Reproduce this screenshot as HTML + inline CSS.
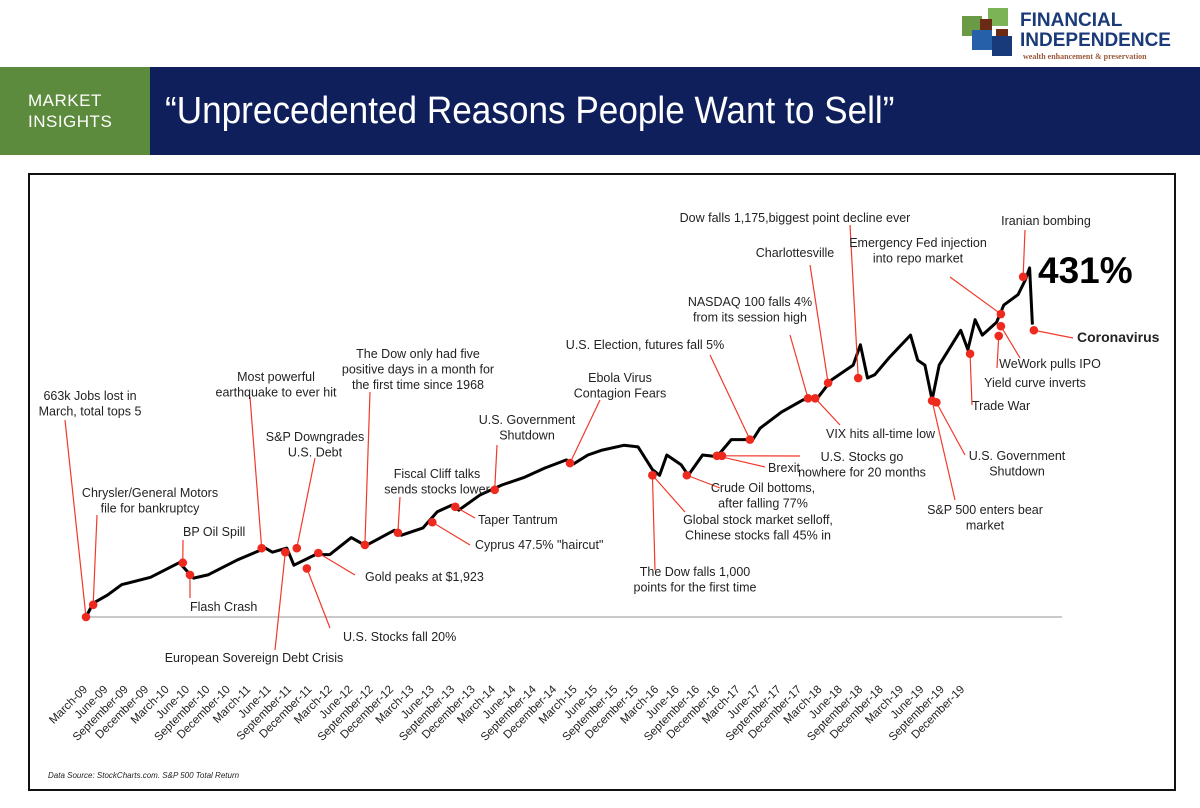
<!DOCTYPE html>
<html><head><meta charset="utf-8"><style>
body{margin:0;width:1200px;height:808px;background:#fff;font-family:"Liberation Sans",sans-serif;overflow:hidden;position:relative}
#hdr-green{position:absolute;left:0;top:67px;width:150px;height:88px;background:#5c8b3d}
#hdr-blue{position:absolute;left:150px;top:67px;width:1050px;height:88px;background:#0e1f5b}
#mi{position:absolute;left:28px;top:90px;color:#fff;font-size:17px;line-height:21px;letter-spacing:0.5px}
#title{position:absolute;left:165px;top:90px;color:#fff;font-size:38px;white-space:nowrap;transform:scaleX(0.925);transform-origin:0 0}
#logo{position:absolute;left:962px;top:6px;width:230px;height:56px}
</style></head><body>
<div id="logo">
<svg width="230" height="56">
<rect x="0" y="10" width="20" height="20" fill="#6a9a46"/>
<rect x="26" y="2" width="20" height="18" fill="#7cb356"/>
<rect x="18" y="13" width="12" height="12" fill="#6b2a14"/>
<rect x="10" y="24" width="20" height="20" fill="#2660a8"/>
<rect x="34" y="23" width="12" height="10" fill="#6b2a14"/>
<rect x="30" y="30" width="20" height="20" fill="#183a7a"/>
<text x="58" y="20" font-family="Liberation Sans" font-weight="bold" font-size="19" fill="#1b3a7a">FINANCIAL</text>
<text x="58" y="40" font-family="Liberation Sans" font-weight="bold" font-size="19" fill="#1b3a7a">INDEPENDENCE</text>
<text x="61" y="53" font-family="Liberation Serif" font-weight="bold" font-size="8" fill="#9a5a3a">wealth enhancement &amp; preservation</text>
</svg></div>
<div id="hdr-green"></div>
<div id="hdr-blue"></div>
<div id="mi">MARKET<br>INSIGHTS</div>
<div id="title">“Unprecedented Reasons People Want to Sell”</div>
<svg id="chart" width="1200" height="808" style="position:absolute;left:0;top:0"></svg>
<script>
const months=[0,1,3,5,9,13,15,17,21,25,26,28,29,32,34,37,39,43,44,47,49,51,52,55,58,61,64,67,68,70,72,75,77,79,80,81,83,84,86,88,90,92,93,94,97,100,102,104,107,108,109,110,112,115,116,117,118,119,122,123,124,125,127,128,130,131,131.6,132];
const values=[0,17,27,40,49,67,48,52,70,85,80,85,64,77,77,98,88,107,101,110,130,138,132,151,163,172,184,194,189,200,206,212,210,182,175,200,188,175,200,198,219,219,219,233,253,268,270,293,311,336,295,299,320,348,317,311,268,311,354,330,367,348,364,385,398,416,431,361];
const tickMonths=["March","June","September","December"];
const tickYears=["09","10","11","12","13","14","15","16","17","18","19"];
const evMonth=[0,1,13.5,14.5,24.5,29.4,27.8,30.8,32.4,38.9,43.5,48.3,51.5,57,67.5,79,79,83.8,88,88.7,92.6,100.7,101.7,103.5,107.7,118,118.6,123.3,127.3,127.6,127.6,130.7,132.2];
const evValue=[0,15,67,52,85,85,80,60,79,89,104,117,136,157,190,175,175,175,199,199,219,270,270,289,295,267,265,325,347,359,374,420,354];
const layout=[
[65,420,90,400,"middle",["663k Jobs lost in","March, total tops 5"]],
[97,515,150,497,"middle",["Chrysler/General Motors","file for bankruptcy"]],
[183,540,183,536,"start",["BP Oil Spill"]],
[190,598,190,611,"start",["Flash Crash"]],
[250,397,276,381,"middle",["Most powerful","earthquake to ever hit"]],
[315,458,315,441,"middle",["S&P Downgrades","U.S. Debt"]],
[275,650,254,662,"middle",["European Sovereign Debt Crisis"]],
[330,628,343,641,"start",["U.S. Stocks fall 20%"]],
[355,575,365,581,"start",["Gold peaks at $1,923"]],
[370,392,418,358,"middle",["The Dow only had five","positive days in a month for","the first time since 1968"]],
[400,497,437,478,"middle",["Fiscal Cliff talks","sends stocks lower"]],
[470,545,475,549,"start",["Cyprus 47.5% \"haircut\""]],
[475,518,478,524,"start",["Taper Tantrum"]],
[497,445,527,424,"middle",["U.S. Government","Shutdown"]],
[600,400,620,382,"middle",["Ebola Virus","Contagion Fears"]],
[655,570,695,576,"middle",["The Dow falls 1,000","points for the first time"]],
[685,512,758,524,"middle",["Global stock market selloff,","Chinese stocks fall 45% in"]],
[720,488,763,492,"middle",["Crude Oil bottoms,","after falling 77%"]],
[765,467,768,472,"start",["Brexit"]],
[800,456,862,461,"middle",["U.S. Stocks go","nowhere for 20 months"]],
[710,355,645,349,"middle",["U.S. Election, futures fall 5%"]],
[790,335,750,306,"middle",["NASDAQ 100 falls 4%","from its  session high"]],
[840,425,826,438,"start",["VIX hits all-time low"]],
[810,265,795,257,"middle",["Charlottesville"]],
[850,225,795,222,"middle",["Dow falls 1,175,biggest point decline ever"]],
[955,500,985,514,"middle",["S&P 500 enters bear","market"]],
[965,455,1017,460,"middle",["U.S. Government","Shutdown"]],
[972,405,972,410,"start",["Trade War"]],
[997,368,1035,387,"middle",["Yield curve inverts"]],
[1020,358,1050,368,"middle",["WeWork pulls IPO"]],
[950,277,918,247,"middle",["Emergency Fed injection","into repo market"]],
[1025,230,1046,225,"middle",["Iranian bombing"]],
[1073,338,1077,342,"start",["Coronavirus"]]];
const NS="http://www.w3.org/2000/svg";
const svg=document.getElementById('chart');
function x(m){return 86+m*7.17;}
function y(v){return 617-v*0.81;}
function mk(t,a,p){const e=document.createElementNS(NS,t);for(const k in a)e.setAttribute(k,a[k]);(p||svg).appendChild(e);return e;}
const frame=mk('rect',{x:29,y:174,width:1146,height:616,fill:'none',stroke:'#111','stroke-width':2});


const base=mk('line',{x1:85,y1:617,x2:1062,y2:617,stroke:'#aaa','stroke-width':1.2});


const pts=months.map((m,i)=>x(m).toFixed(1)+','+y(values[i]).toFixed(1)).join(' ');
const line=mk('polyline',{points:pts,fill:'none',stroke:'#000','stroke-width':3,'stroke-linejoin':'round'});


let ti=0;
for(const yr of tickYears){for(const mo of tickMonths){
  const i=ti;ti++;
  const tx=88+i*20.4,ty=690;
  const t=mk('text',{x:tx,y:ty,'text-anchor':'end','font-size':11.5,fill:'#222',transform:`rotate(-45 ${tx} ${ty})`});
  t.textContent=mo+'-'+yr;
  
  
}}
evMonth.forEach((m,i)=>{
  const L=layout[i],px=x(m),py=y(evValue[i]);
  const ld=mk('line',{x1:px,y1:py,x2:L[0],y2:L[1],stroke:'#f03a2a','stroke-width':1.2});
  
  
  const d=mk('circle',{cx:px,cy:py,r:4.3,fill:'#ee2a1e'});
  
  
  const t=mk('text',{x:L[2],y:L[3],'text-anchor':L[4],'font-size':i===32?14:12.5,'font-weight':i===32?'bold':'normal',fill:'#222'});
  
  
  L[5].forEach((s,j)=>{const sp=mk('tspan',{x:L[2],dy:j?15.5:0},t);sp.textContent=s;});
});
const big=mk('text',{x:1038,y:283,'font-size':37,'font-weight':'bold',fill:'#000'});
big.textContent='431%';


const src=mk('text',{x:48,y:778,'font-size':8,'font-style':'italic',fill:'#222'});
src.textContent='Data Source: StockCharts.com. S&P 500 Total Return';


</script>
</body></html>
